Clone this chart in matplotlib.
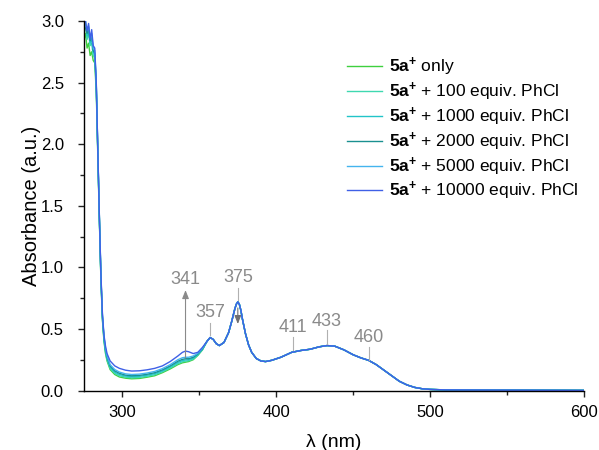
import matplotlib
matplotlib.use("Agg")
import matplotlib.pyplot as plt
from matplotlib.ticker import MultipleLocator, FormatStrFormatter

plt.rcParams['font.family'] = ['Liberation Sans', 'DejaVu Sans']
plt.rcParams['mathtext.fontset'] = 'custom'
plt.rcParams['mathtext.rm'] = 'Liberation Sans'
plt.rcParams['mathtext.bf'] = 'Liberation Sans:bold'

# Wavelengths (nm) where the series differ
head_nm = [275, 276, 277, 278, 279, 280, 281, 282, 283, 284, 285, 286, 287, 288,
           289, 290, 292, 295, 298, 302, 306, 311, 316, 321, 326, 331, 336, 339,
           341, 343, 346, 349, 352]

# Absorbance per series in that region
only_head = [2.85, 2.9, 2.78, 2.82, 2.72, 2.75, 2.68, 2.66, 2.42, 1.9, 1.38, 0.9, 0.57, 0.40,
             0.30, 0.24, 0.17, 0.13, 0.11, 0.10, 0.095, 0.098, 0.108, 0.12, 0.145, 0.175, 0.21, 0.225,
             0.23, 0.235, 0.25, 0.285, 0.33]
eq100_head = [2.95, 2.97, 2.85, 2.9, 2.8, 2.82, 2.72, 2.7, 2.45, 1.92, 1.4, 0.91, 0.58, 0.41,
              0.31, 0.25, 0.18, 0.14, 0.12, 0.108, 0.103, 0.106, 0.115, 0.128, 0.152, 0.183, 0.218, 0.233,
              0.238, 0.242, 0.255, 0.288, 0.332]
eq1000_head = [2.9, 3.0, 2.88, 2.95, 2.82, 2.86, 2.75, 2.72, 2.47, 1.93, 1.4, 0.92, 0.59, 0.42,
               0.32, 0.26, 0.19, 0.15, 0.13, 0.117, 0.112, 0.115, 0.124, 0.137, 0.16, 0.192, 0.228, 0.243,
               0.248, 0.25, 0.262, 0.292, 0.335]
eq2000_head = [2.97, 2.95, 2.9, 2.93, 2.84, 2.88, 2.76, 2.74, 2.48, 1.94, 1.41, 0.93, 0.6, 0.43,
               0.33, 0.27, 0.2, 0.16, 0.14, 0.125, 0.12, 0.123, 0.132, 0.145, 0.168, 0.2, 0.238, 0.253,
               0.258, 0.258, 0.27, 0.297, 0.338]
eq5000_head = [3.0, 2.96, 2.94, 2.96, 2.86, 2.9, 2.78, 2.76, 2.49, 1.95, 1.42, 0.94, 0.61, 0.44,
               0.34, 0.28, 0.21, 0.17, 0.15, 0.135, 0.13, 0.133, 0.142, 0.155, 0.178, 0.21, 0.25, 0.266,
               0.27, 0.27, 0.28, 0.302, 0.342]
eq10000_head = [2.98, 3.0, 2.92, 2.98, 2.85, 2.93, 2.8, 2.78, 2.5, 1.95, 1.42, 0.95, 0.62, 0.45,
                0.36, 0.30, 0.24, 0.20, 0.18, 0.165, 0.158, 0.16, 0.168, 0.18, 0.20, 0.235, 0.28, 0.31,
                0.32, 0.315, 0.30, 0.31, 0.35]

# Shared part of the spectrum (all series overlap)
tail_nm = [355, 357, 359, 361, 363, 366, 369, 371, 373, 374, 375, 376, 377, 378, 380, 382,
           384, 387, 390, 393, 397, 403, 410, 416, 422, 428, 433, 438, 444, 450, 455, 460,
           465, 470, 475, 480, 485, 490, 495, 500, 510, 525, 550, 575, 600]
tail_abs = [0.40, 0.43, 0.415, 0.38, 0.365, 0.39, 0.47, 0.56, 0.66, 0.70, 0.72, 0.70, 0.65, 0.58, 0.46, 0.37,
            0.31, 0.26, 0.24, 0.235, 0.245, 0.27, 0.31, 0.325, 0.335, 0.355, 0.365, 0.36, 0.33, 0.29, 0.265, 0.245,
            0.21, 0.165, 0.12, 0.075, 0.045, 0.025, 0.014, 0.009, 0.005, 0.004, 0.003, 0.002, 0.001]

labels = [r'$\mathbf{5a^{+}}$ only',
          r'$\mathbf{5a^{+}}$ + 100 equiv. PhCl',
          r'$\mathbf{5a^{+}}$ + 1000 equiv. PhCl',
          r'$\mathbf{5a^{+}}$ + 2000 equiv. PhCl',
          r'$\mathbf{5a^{+}}$ + 5000 equiv. PhCl',
          r'$\mathbf{5a^{+}}$ + 10000 equiv. PhCl']
heads = [only_head, eq100_head, eq1000_head, eq2000_head, eq5000_head, eq10000_head]
colors = ['#3fd03f', '#3fd8b0', '#22c4c8', '#1a9090', '#44b4ee', '#3f60e6']

# Peak labels: wavelength, line bottom, line top, text centre
peak_nm = [341, 357, 375, 411, 433, 460]
peak_line_lo = [0.265, 0.45, 0.735, 0.33, 0.38, 0.25]
peak_line_hi = [0.815, 0.55, 0.83, 0.435, 0.49, 0.35]
peak_text_y = [0.905, 0.63, 0.915, 0.51, 0.557, 0.427]

fig = plt.figure(figsize=(5.99, 4.5), dpi=100)
ax = fig.add_axes([0.1402, 0.1322, 0.8347, 0.8211])

for h, c, lab in zip(heads, colors, labels):
    ax.plot(head_nm + tail_nm, h + tail_abs, color=c, lw=1.0, label=lab)

gray = '#8a8a8a'
for i, (x, lo, hi, ty) in enumerate(zip(peak_nm, peak_line_lo, peak_line_hi, peak_text_y)):
    if i == 0:
        ax.annotate('', xy=(x, hi), xytext=(x, lo),
                    arrowprops=dict(arrowstyle='-|>,head_width=0.2,head_length=0.5',
                                    color=gray, lw=0.8, shrinkA=0, shrinkB=0))
    else:
        ax.plot([x, x], [lo, hi], color='#b0b0b0', lw=0.8)
    ax.text(x, ty, str(x), color=gray, fontsize=13, ha='center', va='center')

# decreasing 375 band
ax.annotate('', xy=(375, 0.54), xytext=(375, 0.67),
            arrowprops=dict(arrowstyle='-|>,head_width=0.2,head_length=0.5',
                            color='#707070', lw=0.8, shrinkA=0, shrinkB=0))

ax.set_xlim(275, 600)
ax.set_ylim(0, 3.0)
ax.xaxis.set_major_locator(MultipleLocator(100))
ax.xaxis.set_minor_locator(MultipleLocator(50))
ax.yaxis.set_major_locator(MultipleLocator(0.5))
ax.yaxis.set_minor_locator(MultipleLocator(0.25))
ax.yaxis.set_major_formatter(FormatStrFormatter('%.1f'))
ax.tick_params(which='major', direction='out', length=4.5, width=1, labelsize=12, color='#222222')
ax.tick_params(which='minor', direction='out', length=3, width=1, color='#222222')
ax.tick_params(axis='y', which='major', pad=10)
ax.tick_params(axis='x', which='major', pad=6)
for s in ['top', 'right']:
    ax.spines[s].set_visible(False)
for s in ['left', 'bottom']:
    ax.spines[s].set_linewidth(1.0)

ax.set_xlabel('λ (nm)', fontsize=14, labelpad=10)
ax.set_ylabel('Absorbance (a.u.)', fontsize=14.5, labelpad=0)

ax.legend(loc='upper left', bbox_to_anchor=(0.512, 0.925), frameon=False, fontsize=12.5,
          handlelength=2.0, handletextpad=0.45, labelspacing=0.15, borderaxespad=0)

plt.savefig('out.png', dpi=100)
plt.close(fig)
